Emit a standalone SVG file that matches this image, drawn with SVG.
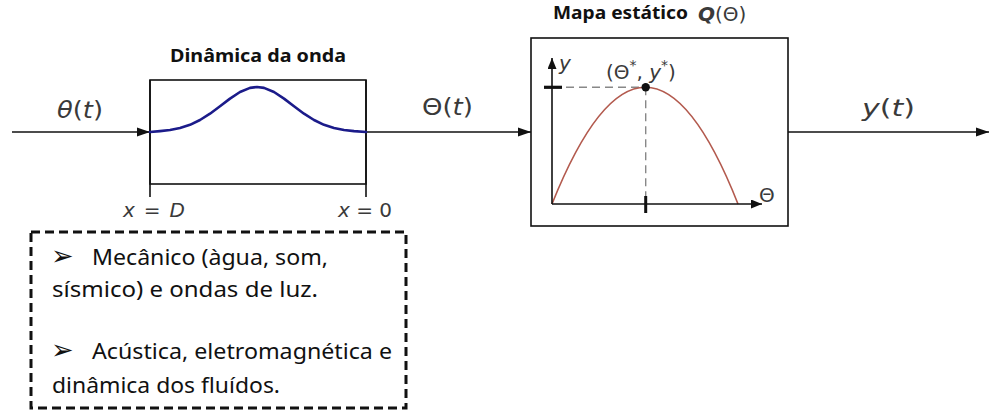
<svg xmlns="http://www.w3.org/2000/svg" width="989" height="415" viewBox="0 0 989 415">
  <defs>
    <marker id="arrow" viewBox="0 0 13 10" refX="13" refY="5" markerWidth="13" markerHeight="10" markerUnits="userSpaceOnUse" orient="auto">
      <path d="M0,0.5 L13,5 L0,9.5 Z" fill="#111"/>
    </marker>
    <marker id="axisArrow" viewBox="0 0 11 9" refX="11" refY="4.5" markerWidth="11" markerHeight="9" markerUnits="userSpaceOnUse" orient="auto">
      <path d="M0,0 L11,4.5 L0,9 Z" fill="#111"/>
    </marker>
    <style>
      .line { stroke: #111; stroke-width: 1.6; fill: none; }
      .box { stroke: #111; stroke-width: 1.6; fill: #fff; }
      .title { font-family: "Noto Sans", "Liberation Sans", sans-serif; font-weight: bold; font-size: 17px; fill: #111; }
      .math { font-family: "DejaVu Sans", "Noto Sans", sans-serif; font-size: 23px; fill: #3a3a3a; }
      .mathS { font-family: "DejaVu Sans", "Noto Sans", sans-serif; font-size: 20px; fill: #3a3a3a; }
      .note { font-family: "Noto Sans", "Open Sans", sans-serif; font-size: 21px; fill: #111; }
      .bullet { font-family: "DejaVu Sans", sans-serif; font-size: 27px; fill: #111; }
      .it { font-style: italic; }
      .dash { stroke: #888; stroke-width: 1.4; stroke-dasharray: 8 5; fill: none; }
    </style>
  </defs>

  <!-- Connectors -->
  <g id="connectors">
    <line class="line" x1="12" y1="132" x2="150" y2="132" marker-end="url(#arrow)"/>
    <line class="line" x1="366" y1="132" x2="531" y2="132" marker-end="url(#arrow)"/>
    <line class="line" x1="788" y1="132" x2="989" y2="132" marker-end="url(#arrow)"/>
    <text class="math" x="57" y="118" textLength="46" lengthAdjust="spacingAndGlyphs"><tspan class="it">θ</tspan>(<tspan class="it">t</tspan>)</text>
    <text class="math" x="422" y="115" textLength="51" lengthAdjust="spacingAndGlyphs">Θ(<tspan class="it">t</tspan>)</text>
    <text class="math" x="862" y="116" textLength="53" lengthAdjust="spacingAndGlyphs"><tspan class="it">y</tspan>(<tspan class="it">t</tspan>)</text>
  </g>

  <!-- Wave dynamics block -->
  <g id="wave-dynamics">
    <text class="title" x="258" y="62" text-anchor="middle" textLength="176" lengthAdjust="spacingAndGlyphs">Dinâmica da onda</text>
    <rect class="box" x="150" y="80" width="216" height="104" fill="none"/>
    <line class="line" x1="150" y1="80" x2="150" y2="197"/>
    <line class="line" x1="366" y1="80" x2="366" y2="197"/>
    <polyline fill="none" stroke="#1b1b8a" stroke-width="2.6" stroke-linejoin="round" stroke-linecap="round"
      points="150,132 160,131.1 170,130 180,128 190,124.8 200,120 210,113.7 220,106.3 230,98.6 240,92 250,87.9 257,87 264,87.9 274,92 284,98.6 294,106.3 304,113.7 314,120 324,124.8 334,128 344,130 354,131.1 366,132"/>
    <text class="mathS" x="123" y="217" textLength="62" lengthAdjust="spacing"><tspan class="it">x</tspan> = <tspan class="it">D</tspan></text>
    <text class="mathS" x="338" y="217" textLength="54" lengthAdjust="spacing"><tspan class="it">x</tspan> = 0</text>
  </g>

  <!-- Static map block -->
  <g id="static-map">
    <text class="title" x="553" y="19" textLength="135" lengthAdjust="spacingAndGlyphs">Mapa estático</text>
    <text class="mathS" x="698" y="21" font-size="20" font-weight="bold" font-style="italic" fill="#111">Q</text>
    <text class="mathS" x="715" y="21" font-size="21">(Θ)</text>
    <rect class="box" x="531" y="38" width="257" height="188"/>
    <line class="dash" x1="553" y1="87.3" x2="645.7" y2="87.3"/>
    <line class="dash" x1="645.7" y1="87.3" x2="645.7" y2="204"/>
    <path d="M552,204 Q645.7,-29.4 738,204" fill="none" stroke="#b35a4e" stroke-width="1.6"/>
    <line class="line" x1="552" y1="204" x2="552" y2="58" marker-end="url(#axisArrow)"/>
    <line class="line" x1="552" y1="204" x2="762" y2="204" marker-end="url(#axisArrow)"/>
    <line stroke="#111" stroke-width="3.2" x1="544" y1="87.3" x2="562" y2="87.3"/>
    <line stroke="#111" stroke-width="3" x1="645.7" y1="196" x2="645.7" y2="213"/>
    <circle cx="645.7" cy="87.3" r="4.2" fill="#111"/>
    <text class="mathS" x="559" y="70" font-size="19"><tspan class="it">y</tspan></text>
    <text class="mathS" x="606" y="79" font-size="22">(Θ<tspan font-size="14" dy="-9">*</tspan><tspan dy="9">, </tspan><tspan class="it">y</tspan><tspan font-size="14" dy="-9">*</tspan><tspan dy="9">)</tspan></text>
    <text class="mathS" x="759" y="202" font-size="20">Θ</text>
  </g>

  <!-- Notes box -->
  <g id="notes">
    <rect x="31" y="232" width="375" height="176" fill="none" stroke="#111" stroke-width="3" stroke-dasharray="9 5"/>
    <text class="bullet" x="51" y="265">➢</text>
    <text class="note" x="92" y="265" textLength="236" lengthAdjust="spacingAndGlyphs">Mecânico (àgua, som,</text>
    <text class="note" x="52" y="297" textLength="266" lengthAdjust="spacingAndGlyphs">sísmico) e ondas de luz.</text>
    <text class="bullet" x="51" y="359">➢</text>
    <text class="note" x="92" y="359" textLength="300" lengthAdjust="spacingAndGlyphs">Acústica, eletromagnética e</text>
    <text class="note" x="52" y="393" textLength="228" lengthAdjust="spacingAndGlyphs">dinâmica dos fluídos.</text>
  </g>
</svg>
